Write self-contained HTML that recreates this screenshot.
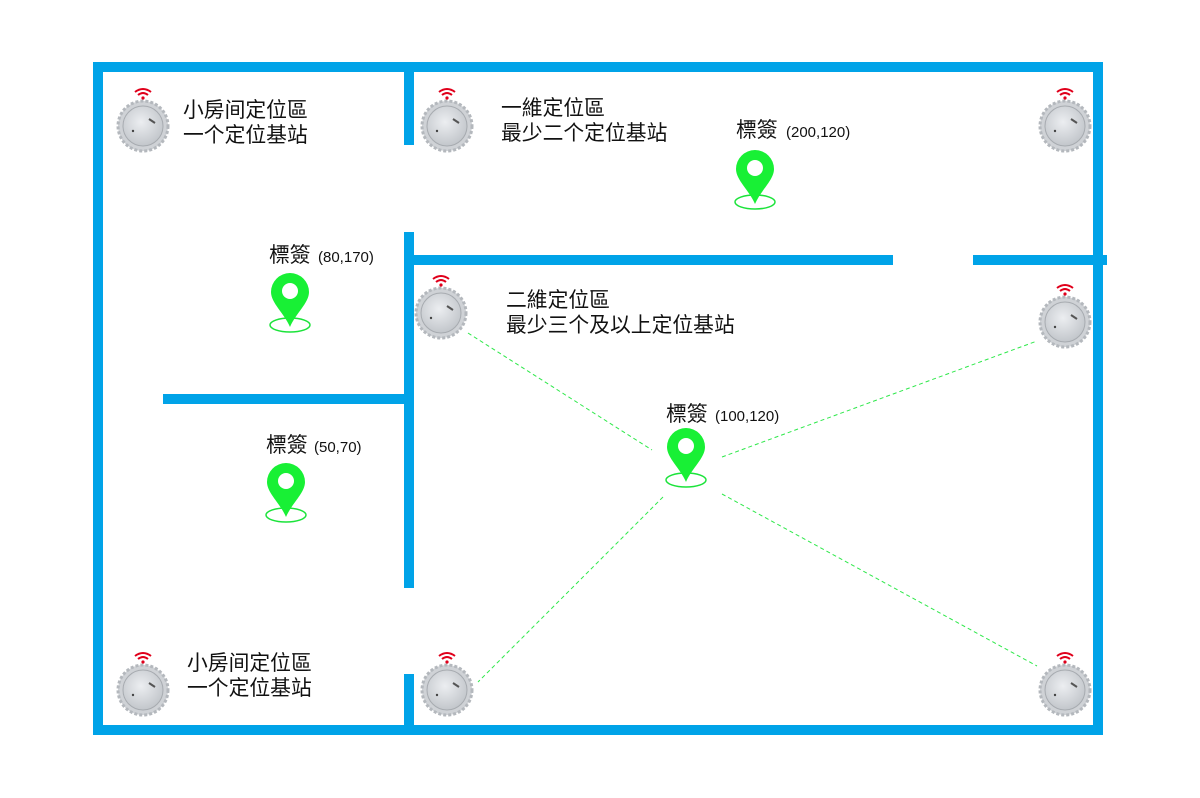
<!DOCTYPE html>
<html><head><meta charset="utf-8"><style>
html,body{margin:0;padding:0;background:#fff;width:1200px;height:798px;overflow:hidden}
text{font-family:"Liberation Sans","Noto Sans CJK TC",sans-serif;fill:#111}
</style></head><body>
<svg width="1200" height="798" viewBox="0 0 1200 798" xmlns="http://www.w3.org/2000/svg">
<defs>
<radialGradient id="g" cx="45%" cy="40%" r="65%"><stop offset="0" stop-color="#eceef1"/><stop offset="1" stop-color="#bfc3c8"/></radialGradient>
<g id="bs">
  <circle r="25" fill="#cfd2d6" stroke="#b4b8bd" stroke-width="3" stroke-dasharray="3 2"/>
  <circle r="20" fill="url(#g)" stroke="#a7abb0" stroke-width="1"/>
  <path d="M6,-7 l6,4" stroke="#555" stroke-width="2"/>
  <circle cx="-10" cy="5" r="1.2" fill="#444"/>
  <g fill="none" stroke="#e0001b" stroke-width="2">
    <path d="M-8,-34 q8,-6 16,0"/><path d="M-5,-31 q5,-4 10,0"/>
  </g>
  <circle cx="0" cy="-28" r="1.6" fill="#e0001b"/>
</g>
<g id="pin">
  <ellipse cx="0" cy="0" rx="20" ry="7" fill="none" stroke="#1be33a" stroke-width="1.5"/>
  <path d="M0,2 C-6,-12 -19,-22 -19,-33 A19,19 0 1 1 19,-33 C19,-22 6,-12 0,2 Z" fill="#18f035"/>
  <circle cx="0" cy="-34" r="8" fill="#fff"/>
</g>
</defs>
<g stroke="#00a3e8" stroke-width="10" fill="none">
  <rect x="98" y="67" width="1000" height="663"/>
  <line x1="409" y1="67" x2="409" y2="145"/>
  <line x1="409" y1="232" x2="409" y2="588"/>
  <line x1="409" y1="674" x2="409" y2="730"/>
  <line x1="409" y1="260" x2="893" y2="260"/>
  <line x1="973" y1="260" x2="1107" y2="260"/>
  <line x1="163" y1="399" x2="409" y2="399"/>
</g>
<g stroke="#2ee84a" stroke-width="1" stroke-dasharray="4 3">
  <line x1="468" y1="333" x2="652" y2="450"/>
  <line x1="722" y1="457" x2="1037" y2="341"/>
  <line x1="663" y1="497" x2="478" y2="682"/>
  <line x1="722" y1="494" x2="1037" y2="666"/>
</g>
<use href="#bs" x="143" y="126"/>
<use href="#bs" x="447" y="126"/>
<use href="#bs" x="1065" y="126"/>
<use href="#bs" x="441" y="313"/>
<use href="#bs" x="1065" y="322"/>
<use href="#bs" x="143" y="690"/>
<use href="#bs" x="447" y="690"/>
<use href="#bs" x="1065" y="690"/>
<use href="#pin" x="755" y="202"/>
<use href="#pin" x="290" y="325"/>
<use href="#pin" x="686" y="480"/>
<use href="#pin" x="286" y="515"/>
<g font-size="20.8">
<text x="183" y="117">小房间定位區</text><text x="183" y="142">一个定位基站</text>
<text x="501" y="115">一維定位區</text><text x="501" y="140">最少二个定位基站</text>
<text x="506" y="307">二維定位區</text><text x="506" y="332">最少三个及以上定位基站</text>
<text x="187" y="670">小房间定位區</text><text x="187" y="695">一个定位基站</text>
<text x="736" y="137">標簽<tspan x="786" font-size="15">(200,120)</tspan></text>
<text x="269" y="262">標簽<tspan x="318" font-size="15">(80,170)</tspan></text>
<text x="666" y="421">標簽<tspan x="715" font-size="15">(100,120)</tspan></text>
<text x="266" y="452">標簽<tspan x="314" font-size="15">(50,70)</tspan></text>
</g>
</svg>
</body></html>
